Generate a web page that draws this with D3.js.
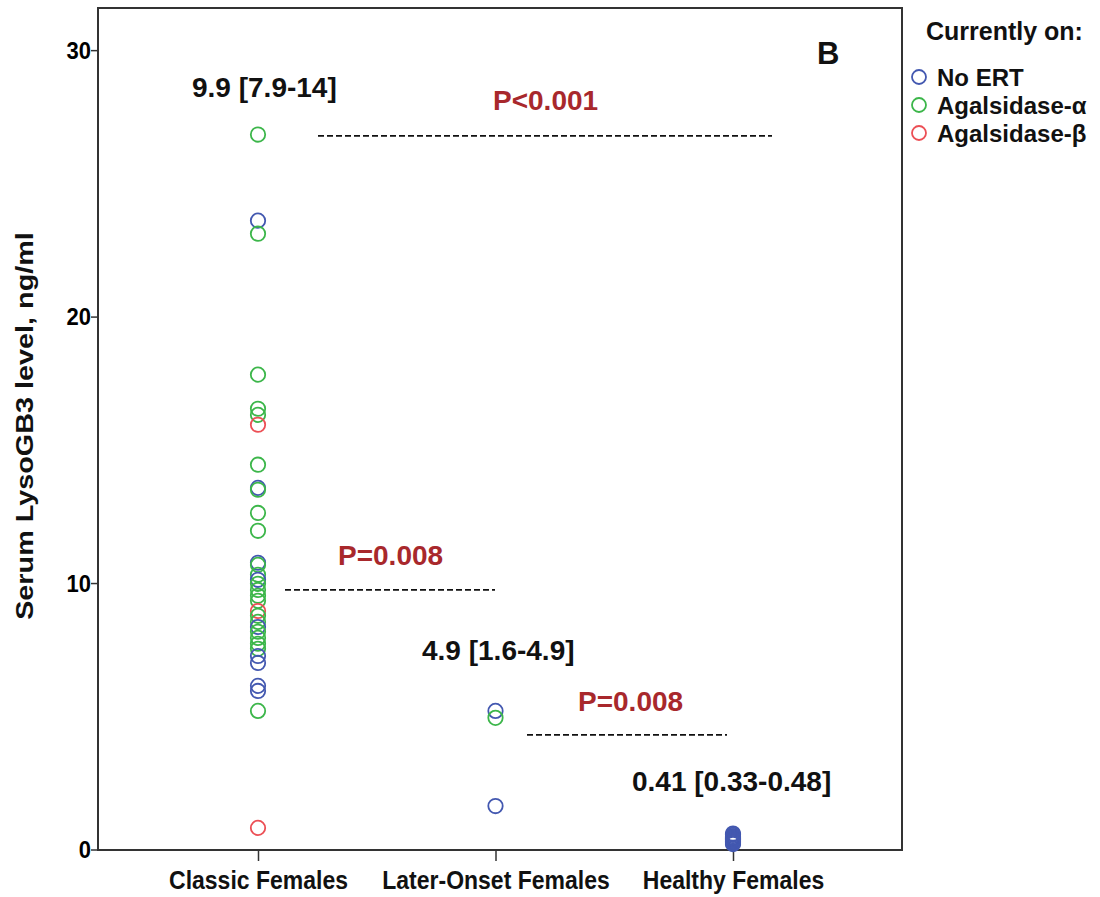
<!DOCTYPE html>
<html lang="en">
<head>
  <meta charset="UTF-8">
  <title>Serum LysoGB3 level</title>
  <style>
    body { margin: 0; padding: 0; background: #fff; }
    text { font-family: "Liberation Sans", Arial, sans-serif; font-weight: bold; }
  </style>
</head>
<body>
  <script src="https://cdn.jsdelivr.net/npm/d3@7"></script>
  <div id="chart"></div>
  <script>
    // categories and groups
    var categories = ["Classic Females", "Later-Onset Females", "Healthy Females"];
    var treatments = ["No ERT", "Agalsidase-\u03b1", "Agalsidase-\u03b2"];
    var yTicks = [0, 10, 20, 30];

    // values (ng/ml), treatment per point
    var classicValues = [26.85, 23.62, 23.13, 17.84, 16.56, 16.33, 15.96, 14.46, 13.59, 13.52,
      12.65, 11.98, 10.78, 10.70, 10.33, 10.14, 9.99, 9.76, 9.54, 9.35, 8.97, 8.79, 8.56,
      8.37, 8.19, 7.96, 7.74, 7.55, 7.28, 7.02, 6.16, 5.97, 5.22, 0.83];
    var classicTreat = [1, 0, 1, 1, 1, 1, 2, 1, 0, 1,
      1, 1, 0, 1, 1, 0, 1, 1, 1, 1, 2, 1, 1,
      0, 1, 1, 1, 1, 0, 0, 0, 0, 1, 2];
    var laterValues = [5.22, 4.96, 1.65];
    var laterTreat = [0, 1, 0];
    var healthyValues = [0.62, 0.57, 0.52, 0.48, 0.45, 0.43, 0.41, 0.39, 0.36, 0.33, 0.30, 0.26, 0.22];
    var healthyTreat = [0, 0, 0, 0, 0, 0, 0, 0, 0, 0, 0, 0, 0];

    var colors = ["#4358b0", "#3cb64a", "#ec4f55"];
    var pColor = "#a8282c";

    var width = 1100, height = 897;
    var plotL = 98, plotR = 902, plotT = 8, plotB = 850;

    var svg = d3.select("#chart").append("svg")
      .attr("width", width)
      .attr("height", height);

    var x = d3.scalePoint().domain(categories).range([258, 733]);
    var y = d3.scaleLinear().domain([0, 31.6]).range([plotB, plotT]);

    // build point list
    var points = [];
    [[classicValues, classicTreat], [laterValues, laterTreat], [healthyValues, healthyTreat]]
      .forEach(function (g, i) {
        g[0].forEach(function (v, j) {
          points.push({ cat: categories[i], value: v, treat: g[1][j] });
        });
      });

    // frame
    svg.append("rect")
      .attr("x", plotL).attr("y", plotT)
      .attr("width", plotR - plotL).attr("height", plotB - plotT)
      .attr("fill", "#fff")
      .attr("stroke", "#333").attr("stroke-width", 2);

    // y axis
    var yAxis = svg.append("g")
      .attr("transform", "translate(" + plotL + ",0)")
      .call(d3.axisLeft(y).tickValues(yTicks).tickSize(7).tickFormat(d3.format("d")));
    yAxis.select(".domain").remove();
    yAxis.selectAll("line").attr("stroke", "#333").attr("stroke-width", 1.5);
    yAxis.selectAll(".tick").attr("transform", null);
    yAxis.selectAll(".tick line").attr("y1", d => y(d)).attr("y2", d => y(d));
    yAxis.selectAll("text")
      .attr("fill", "#000").attr("font-size", 22).attr("x", 0).attr("dy", null).attr("y", 0)
      .attr("transform", function (d) { return "translate(-7," + (y(d) + 8) + ") scale(1,1.1)"; });

    // x axis
    var xAxis = svg.append("g")
      .attr("transform", "translate(0," + plotB + ")")
      .call(d3.axisBottom(x).tickSize(11));
    xAxis.select(".domain").remove();
    xAxis.selectAll("line").attr("stroke", "#333").attr("stroke-width", 1.5);
    xAxis.selectAll("text")
      .attr("fill", "#111").attr("font-size", 23).attr("dy", null).attr("y", 0)
      .attr("transform", "translate(0,39) scale(1,1.12)");

    // y title
    svg.append("text")
      .attr("transform", "translate(33,426) rotate(-90) scale(1.2,1)")
      .attr("text-anchor", "middle")
      .attr("font-size", 24)
      .attr("fill", "#111")
      .text("Serum LysoGB3 level, ng/ml");

    // points
    svg.append("g").selectAll("circle")
      .data(points)
      .enter()
      .append("circle")
      .attr("cx", d => x(d.cat))
      .attr("cy", d => y(d.value))
      .attr("r", 7.2)
      .attr("fill", "none")
      .attr("stroke", d => colors[d.treat])
      .attr("stroke-width", 1.8);

    // dashed comparison lines
    var dashes = [
      { x1: 318, x2: 772, v: 26.8 },
      { x1: 285, x2: 495, v: 9.76 },
      { x1: 527, x2: 727, v: 4.32 }
    ];
    svg.append("g").selectAll("line")
      .data(dashes)
      .enter()
      .append("line")
      .attr("x1", d => d.x1).attr("x2", d => d.x2)
      .attr("y1", d => y(d.v)).attr("y2", d => y(d.v))
      .attr("stroke", "#111")
      .attr("stroke-width", 1.7)
      .attr("stroke-dasharray", "6,3");

    // annotation texts
    var notes = [
      { t: "9.9 [7.9-14]", x: 192, y: 97, c: "#111", s: 28 },
      { t: "P<0.001", x: 493, y: 110, c: pColor, s: 28 },
      { t: "P=0.008", x: 338, y: 565, c: pColor, s: 28 },
      { t: "4.9 [1.6-4.9]", x: 422, y: 660, c: "#111", s: 28 },
      { t: "P=0.008", x: 578, y: 711, c: pColor, s: 28 },
      { t: "0.41 [0.33-0.48]", x: 632, y: 791, c: "#111", s: 28 },
      { t: "B", x: 817, y: 64, c: "#111", s: 31 }
    ];
    svg.append("g").selectAll("text")
      .data(notes)
      .enter()
      .append("text")
      .attr("x", d => d.x).attr("y", d => d.y)
      .attr("font-size", d => d.s)
      .attr("fill", d => d.c)
      .text(d => d.t);

    // legend
    var legend = svg.append("g");
    legend.append("text")
      .attr("x", 926).attr("y", 40)
      .attr("font-size", 25)
      .attr("fill", "#111")
      .text("Currently on:");
    var items = legend.selectAll(".item")
      .data(treatments)
      .enter()
      .append("g")
      .attr("class", "item")
      .attr("transform", (d, i) => "translate(0," + (77 + i * 28) + ")");
    items.append("circle")
      .attr("cx", 919).attr("cy", 0).attr("r", 7)
      .attr("fill", "none")
      .attr("stroke", (d, i) => colors[i])
      .attr("stroke-width", 1.8);
    items.append("text")
      .attr("x", 937).attr("y", 9)
      .attr("font-size", 24)
      .attr("fill", "#111")
      .text(d => d);
  </script>
</body>
</html>
